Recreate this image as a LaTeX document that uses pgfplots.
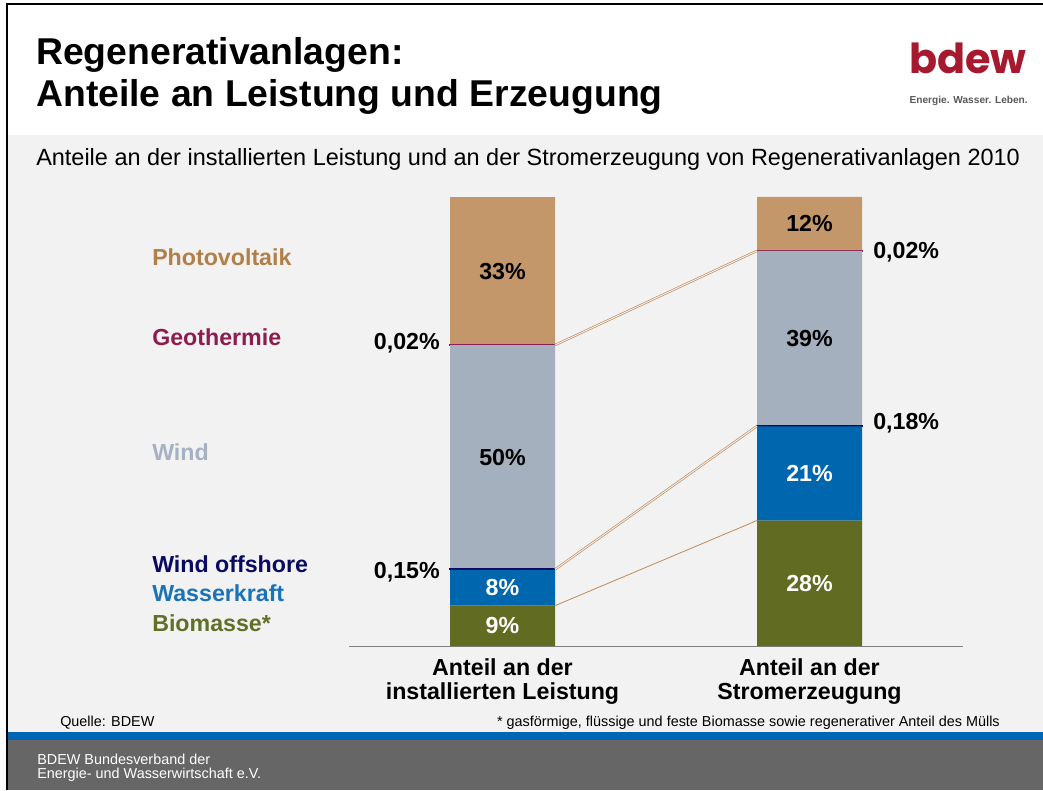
\documentclass[border=0pt]{standalone}
\usepackage{fontspec}
\setmainfont{Liberation Sans}
\newfontfamily\logofont{Poppins}
\usepackage{pgfplots}
\pgfplotsset{compat=1.18}
\definecolor{bg}{HTML}{F2F2F2}
\definecolor{pv}{HTML}{C4976B}
\definecolor{pvtext}{HTML}{B1804A}
\definecolor{geo}{HTML}{8C1D4F}
\definecolor{wind}{HTML}{A5B0BE}
\definecolor{windtext}{HTML}{A6B2C2}
\definecolor{offsh}{HTML}{0A0A60}
\definecolor{wasser}{HTML}{0066AE}
\definecolor{wassertext}{HTML}{1A72B8}
\definecolor{bio}{HTML}{616B22}
\definecolor{biotext}{HTML}{607026}
\definecolor{conn}{HTML}{C08A5A}
\definecolor{stripe}{HTML}{0066B3}
\definecolor{foot}{HTML}{666666}
\definecolor{logored}{HTML}{A6192E}
\definecolor{taggray}{HTML}{595959}
\newcommand{\lab}{\bfseries\fontsize{17.4}{18}\selectfont}
\begin{document}
\begin{tikzpicture}[x=0.75pt,y=0.75pt]
\useasboundingbox (0,0) rectangle (1043,790);
% backgrounds
\fill[white] (0,0) rectangle (1043,790);
\fill[bg] (8,58.5) rectangle (1043,655);
\fill[stripe] (8,50) rectangle (1043,58.5);
\fill[foot] (8,0) rectangle (1043,50);
\draw[black,line width=1.5pt] (7,0) -- (7,786) -- (1043,786);
% title
\node[anchor=base west,inner sep=0pt,font=\bfseries\fontsize{28}{32}\selectfont] at (36,725.7) {Regenerativanlagen:};
\node[anchor=base west,inner sep=0pt,font=\bfseries\fontsize{28}{32}\selectfont] at (36,683.3) {Anteile an Leistung und Erzeugung};
% logo
\node[anchor=base west,inner sep=0pt,text=logored,font=\logofont\bfseries\fontsize{31}{31}\selectfont] at (909,716.7) {bdew};
\node[anchor=base east,inner sep=0pt,text=taggray,font=\bfseries\fontsize{7.6}{8}\selectfont] at (1028,686.7) {Energie. Wasser. Leben.};
% subtitle
\node[anchor=base west,inner sep=0pt,font=\fontsize{17.6}{18}\selectfont] at (36,624) {Anteile an der installierten Leistung und an der Stromerzeugung von Regenerativanlagen 2010};
% legend labels
\node[anchor=base west,inner sep=0pt,text=pvtext,font=\lab] at (152,524.3) {Photovoltaik};
\node[anchor=base west,inner sep=0pt,text=geo,font=\lab] at (152,444) {Geothermie};
\node[anchor=base west,inner sep=0pt,text=windtext,font=\lab] at (152,329) {Wind};
\node[anchor=base west,inner sep=0pt,text=offsh,font=\lab] at (152,217.3) {Wind offshore};
\node[anchor=base west,inner sep=0pt,text=wassertext,font=\lab] at (152,188.3) {Wasserkraft};
\node[anchor=base west,inner sep=0pt,text=biotext,font=\lab] at (152,158.3) {Biomasse*};
% small share labels
\node[anchor=base east,inner sep=0pt,font=\lab] at (440,440) {0,02\%};
\node[anchor=base east,inner sep=0pt,font=\lab] at (440,211.7) {0,15\%};
\node[anchor=base west,inner sep=0pt,font=\lab] at (873,531.7) {0,02\%};
\node[anchor=base west,inner sep=0pt,font=\lab] at (873,360) {0,18\%};
% footnotes
\node[anchor=base west,inner sep=0pt,font=\fontsize{10.8}{12}\selectfont] at (60,64) {Quelle: BDEW};
\node[anchor=base east,inner sep=0pt,font=\fontsize{10.8}{12}\selectfont] at (1000,64) {* gasförmige, flüssige und feste Biomasse sowie regenerativer Anteil des Mülls};
\node[anchor=base west,inner sep=0pt,text=white,font=\fontsize{10.8}{12}\selectfont] at (37,26) {BDEW Bundesverband der};
\node[anchor=base west,inner sep=0pt,text=white,font=\fontsize{10.8}{12}\selectfont] at (37,12) {Energie- und Wasserwirtschaft e.V.};
% chart
\begin{axis}[
  at={(261.75pt,108pt)}, anchor=south west,
  scale only axis, width=460.5pt, height=336.75pt,
  xmin=-0.5, xmax=1.5, ymin=0, ymax=100.2,
  enlargelimits=false, clip=false,
  ybar stacked, bar width=0.342,
  axis x line=bottom, axis y line=none,
  x axis line style={-, draw=gray, line width=0.75pt},
  xtick={0,1}, ytick=\empty,
  major tick length=0pt,
  xticklabels={{Anteil an der\\installierten Leistung},{Anteil an der\\Stromerzeugung}},
  xticklabel style={align=center, font=\lab, inner sep=0pt, yshift=-9pt},
]
\addplot[fill=bio, draw=none] coordinates {(0,9) (1,28)};
\addplot[fill=wasser, draw=none] coordinates {(0,8) (1,21)};
\addplot[fill=offsh, draw=offsh, line width=1pt] coordinates {(0,0.15) (1,0.18)};
\addplot[fill=wind, draw=none] coordinates {(0,50) (1,39)};
\addplot[fill=geo, draw=geo, line width=1pt] coordinates {(0,0.02) (1,0.02)};
\addplot[fill=pv, draw=none] coordinates {(0,33) (1,12)};
\end{axis}
\begin{axis}[
  at={(261.75pt,108pt)}, anchor=south west,
  scale only axis, width=460.5pt, height=336.75pt,
  xmin=-0.5, xmax=1.5, ymin=0, ymax=100.2,
  axis lines=none, clip=false,
]
\addplot[conn, line width=0.5pt, double=bg, double distance=0.7pt] coordinates {(0.171,67.16) (0.829,88.19)};
\addplot[conn, line width=0.5pt, double=bg, double distance=0.7pt] coordinates {(0.171,17.08) (0.829,49.09)};
\addplot[conn, line width=0.6pt] coordinates {(0.171,9) (0.829,28)};
\node[font=\lab,text=white] at (axis cs:0,4.5) {9\%};
\node[font=\lab,text=white] at (axis cs:0,13) {8\%};
\node[font=\lab] at (axis cs:0,42.15) {50\%};
\node[font=\lab] at (axis cs:0,83.67) {33\%};
\node[font=\lab,text=white] at (axis cs:1,14) {28\%};
\node[font=\lab,text=white] at (axis cs:1,38.5) {21\%};
\node[font=\lab] at (axis cs:1,68.68) {39\%};
\node[font=\lab] at (axis cs:1,94.2) {12\%};
\end{axis}
\end{tikzpicture}
\end{document}
